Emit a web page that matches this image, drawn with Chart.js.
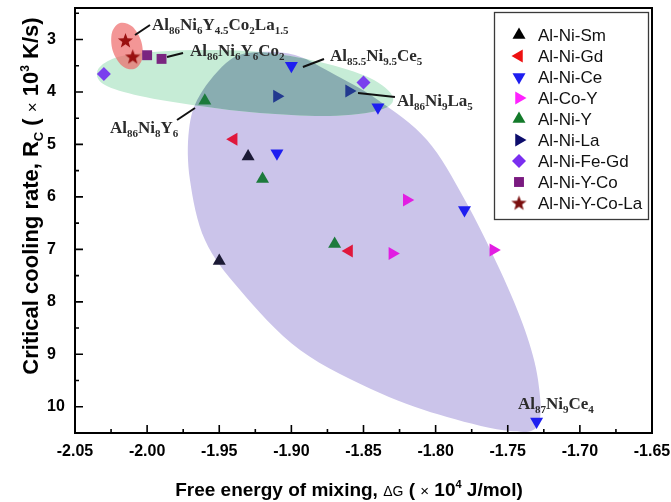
<!DOCTYPE html>
<html>
<head>
<meta charset="utf-8">
<script src="https://cdn.jsdelivr.net/npm/chart.js@4.4.1/dist/chart.umd.min.js"></script>
<style>
  html, body { margin: 0; padding: 0; background: #ffffff; }
  #myChartRc { display: block; }
</style>
</head>
<body>
<canvas id="myChartRc" width="671" height="502"></canvas>
<script>
//? Données : x = ΔG (x 10^4 J/mol), y = Rc (x 10^3 K/s).

const nomsSeries = [
  "Al-Ni-Sm",
  "Al-Ni-Gd",
  "Al-Ni-Ce",
  "Al-Co-Y",
  "Al-Ni-Y",
  "Al-Ni-La",
  "Al-Ni-Fe-Gd",
  "Al-Ni-Y-Co",
  "Al-Ni-Y-Co-La",
];

const valeursAlNiSm = [[-1.93, 5.23], [-1.95, 7.22]];
const valeursAlNiGd = [[-1.94, 4.9], [-1.86, 7.03]];
const valeursAlNiCe = [[-1.9, 3.5], [-1.84, 4.29], [-1.91, 5.17], [-1.78, 6.25], [-1.73, 10.28]];
const valeursAlCoY = [[-1.82, 6.06], [-1.83, 7.08], [-1.76, 7.01]];
const valeursAlNiY = [[-1.96, 4.17], [-1.92, 5.66], [-1.87, 6.9]];
const valeursAlNiLa = [[-1.91, 4.08], [-1.86, 3.98]];
const valeursAlNiFeGd = [[-2.03, 3.66], [-1.85, 3.82]];
const valeursAlNiYCo = [[-2.0, 3.3], [-1.99, 3.37]];
const valeursAlNiYCoLa = [[-2.015, 3.02], [-2.01, 3.33]];

const ticksX = [-2.05, -2.0, -1.95, -1.9, -1.85, -1.8, -1.75, -1.7, -1.65];
const ticksY = [3, 4, 5, 6, 7, 8, 9, 10];

//? Contours des zones colorées (mêmes unités que les axes).

const zoneRouge = [
  [-2.0091, 3.563], [-2.0035, 3.376], [-2.004, 3.042], [-2.0103, 2.754],
  [-2.0188, 2.686], [-2.0244, 2.873], [-2.0239, 3.208], [-2.0176, 3.494],
];

const zoneVerte = [
  [-2.0347, 3.62], [-2.0257, 3.391], [-2.0049, 3.258], [-1.9634, 3.2],
  [-1.9218, 3.239], [-1.8802, 3.429], [-1.8455, 3.734], [-1.8296, 4.096],
  [-1.8386, 4.344], [-1.8732, 4.458], [-1.9218, 4.401], [-1.9634, 4.268],
  [-2.0049, 4.077], [-2.0292, 3.868],
];

const zoneViolette = [
  [-1.9426, 3.391], [-1.9218, 3.239], [-1.8975, 3.296], [-1.8732, 3.62],
  [-1.84, 4.153], [-1.806, 4.916], [-1.7797, 6.059], [-1.7554, 7.393],
  [-1.7381, 8.537], [-1.729, 9.49], [-1.729, 10.347], [-1.7485, 10.462],
  [-1.7921, 10.195], [-1.8386, 9.738], [-1.894, 8.918], [-1.9356, 7.774],
  [-1.9599, 6.822], [-1.9703, 5.678], [-1.971, 4.725], [-1.9634, 4.058],
];

//? -------------------------------------------------

//? Étiquettes des compositions (pair = texte, impair = indice).

const etiquettes = [
  { morceaux: ["Al", "86", "Ni", "6", "Y", "4.5", "Co", "2", "La", "1.5"], x: -1.9966, y: 2.705, trait: [[-2.0084, 2.915], [-1.998, 2.724]] },
  { morceaux: ["Al", "86", "Ni", "6", "Y", "6", "Co", "2"], x: -1.9703, y: 3.2, trait: [[-1.9862, 3.334], [-1.9751, 3.258]] },
  { morceaux: ["Al", "85.5", "Ni", "9.5", "Ce", "5"], x: -1.8732, y: 3.296, trait: [[-1.892, 3.524], [-1.8774, 3.372]] },
  { morceaux: ["Al", "86", "Ni", "9", "La", "5"], x: -1.8268, y: 4.153, trait: [[-1.8538, 4.02], [-1.8282, 4.096]] },
  { morceaux: ["Al", "86", "Ni", "8", "Y", "6"], x: -2.0257, y: 4.668, trait: [[-1.9793, 4.535], [-1.9668, 4.306]] },
  { morceaux: ["Al", "87", "Ni", "9", "Ce", "4"], x: -1.7429, y: 9.928, trait: null },
];

//? -------------------------------------------------

//? Marqueur étoile (Chart.js n'a pas d'étoile pleine).

const creerEtoile = (couleur) => {
  const c = document.createElement("canvas");
  c.width = 17;
  c.height = 17;
  const g = c.getContext("2d");
  g.beginPath();
  for (let i = 0; i < 10; i++) {
    const r = i % 2 === 0 ? 8 : 3.3;
    const a = -Math.PI / 2 + (i * Math.PI) / 5;
    const px = 8.5 + r * Math.cos(a);
    const py = 9 + r * Math.sin(a);
    if (i === 0) g.moveTo(px, py);
    else g.lineTo(px, py);
  }
  g.closePath();
  g.fillStyle = couleur;
  g.fill();
  return c;
};

const styles = [
  { couleur: "#1b1a35", legende: "#000000", forme: "triangle", rotation: 0, rayon: 7.5 },
  { couleur: "#e0173c", legende: "#ee1111", forme: "triangle", rotation: -90, rayon: 7.5 },
  { couleur: "#1e1ef0", legende: "#1e1ef0", forme: "triangle", rotation: 180, rayon: 7.5 },
  { couleur: "#e21de2", legende: "#ff22ff", forme: "triangle", rotation: 90, rayon: 7.5 },
  { couleur: "#1c7a3c", legende: "#137a2a", forme: "triangle", rotation: 0, rayon: 7.5 },
  { couleur: "#22398f", legende: "#0c0c6c", forme: "triangle", rotation: 90, rayon: 7.5 },
  { couleur: "#7a3fee", legende: "#7a2ef0", forme: "rectRot", rotation: 0, rayon: 7 },
  { couleur: "#7a2580", legende: "#7a1a80", forme: "rect", rotation: 0, rayon: 7 },
  { couleur: "#9a1010", legende: "#7a0e0e", forme: "etoile", rotation: 0, rayon: 8 },
];

const toPoints = (tab) => tab.map(([x, y]) => ({ x, y }));

//? -------------------------------------------------

//? Outils de dessin.

const tracerCourbeFermee = (ctx, pts) => {
  const n = pts.length;
  ctx.beginPath();
  ctx.moveTo(pts[0][0], pts[0][1]);
  for (let i = 0; i < n; i++) {
    const p0 = pts[(i - 1 + n) % n];
    const p1 = pts[i];
    const p2 = pts[(i + 1) % n];
    const p3 = pts[(i + 2) % n];
    ctx.bezierCurveTo(
      p1[0] + (p2[0] - p0[0]) / 6,
      p1[1] + (p2[1] - p0[1]) / 6,
      p2[0] - (p3[0] - p1[0]) / 6,
      p2[1] - (p3[1] - p1[1]) / 6,
      p2[0],
      p2[1]
    );
  }
  ctx.closePath();
};

const versPixels = (chart, tab) =>
  tab.map(([x, y]) => [
    chart.scales.x.getPixelForValue(x),
    chart.scales.y.getPixelForValue(y),
  ]);

// morceaux : { t, f, dy }
const largeurRiche = (ctx, morceaux) =>
  morceaux.reduce((s, m) => {
    ctx.font = m.f;
    return s + ctx.measureText(m.t).width;
  }, 0);

const dessinerRiche = (ctx, morceaux, x, y) => {
  let cx = x;
  ctx.textAlign = "left";
  ctx.textBaseline = "alphabetic";
  morceaux.forEach((m) => {
    ctx.font = m.f;
    ctx.fillText(m.t, cx, y + (m.dy || 0));
    cx += ctx.measureText(m.t).width;
  });
};

//? -------------------------------------------------

//? Plugin zones (sous les points).

const pluginZones = {
  id: "zones",
  beforeDatasetsDraw(chart) {
    const ctx = chart.ctx;
    const violet = versPixels(chart, zoneViolette);
    const vert = versPixels(chart, zoneVerte);
    const rouge = versPixels(chart, zoneRouge);

    ctx.save();
    tracerCourbeFermee(ctx, violet);
    ctx.fillStyle = "#cbc4ea";
    ctx.fill();

    tracerCourbeFermee(ctx, vert);
    ctx.fillStyle = "#c6ecd6";
    ctx.fill();

    // recouvrement vert / violet
    ctx.save();
    tracerCourbeFermee(ctx, vert);
    ctx.clip();
    tracerCourbeFermee(ctx, violet);
    ctx.fillStyle = "#89adb1";
    ctx.fill();
    ctx.restore();

    tracerCourbeFermee(ctx, rouge);
    ctx.fillStyle = "rgba(238, 100, 100, 0.68)";
    ctx.fill();
    ctx.restore();
  },
};

//? Plugin habillage : cadre, graduations, titres, étiquettes, légende.

const pluginHabillage = {
  id: "habillage",
  afterDatasetsDraw(chart) {
    const ctx = chart.ctx;
    const sx = chart.scales.x;
    const sy = chart.scales.y;
    const { left, right, top, bottom } = chart.chartArea;

    ctx.save();

    //? Étiquettes des compositions
    etiquettes.forEach((e) => {
      if (e.trait) {
        ctx.beginPath();
        ctx.moveTo(sx.getPixelForValue(e.trait[0][0]), sy.getPixelForValue(e.trait[0][1]));
        ctx.lineTo(sx.getPixelForValue(e.trait[1][0]), sy.getPixelForValue(e.trait[1][1]));
        ctx.strokeStyle = "#111111";
        ctx.lineWidth = 2;
        ctx.stroke();
      }
      const morceaux = e.morceaux.map((t, i) =>
        i % 2 === 0
          ? { t, f: 'bold 17px "Liberation Serif"' }
          : { t, f: 'bold 11px "Liberation Serif"', dy: 4 }
      );
      ctx.fillStyle = "#2b2b2b";
      dessinerRiche(ctx, morceaux, sx.getPixelForValue(e.x), sy.getPixelForValue(e.y) + 6);
    });

    //? Cadre
    ctx.strokeStyle = "#000000";
    ctx.lineWidth = 2;
    ctx.strokeRect(left, top, right - left, bottom - top);

    //? Graduations vers l'intérieur
    ctx.lineWidth = 1.6;
    ctx.beginPath();
    ticksX.forEach((v, i) => {
      const px = sx.getPixelForValue(v);
      ctx.moveTo(px, bottom);
      ctx.lineTo(px, bottom - 8);
      if (i < ticksX.length - 1) {
        const pm = sx.getPixelForValue(v + 0.025);
        ctx.moveTo(pm, bottom);
        ctx.lineTo(pm, bottom - 4);
      }
    });
    ticksY.forEach((v) => {
      const py = sy.getPixelForValue(v);
      ctx.moveTo(left, py);
      ctx.lineTo(left + 8, py);
      [v - 0.5, v + 0.5].forEach((m) => {
        if (m >= sy.min && m <= sy.max) {
          const pm = sy.getPixelForValue(m);
          ctx.moveTo(left, pm);
          ctx.lineTo(left + 4, pm);
        }
      });
    });
    ctx.stroke();

    //? Libellés des graduations
    ctx.fillStyle = "#000000";
    ctx.font = 'bold 16px "Liberation Sans"';
    ctx.textAlign = "center";
    ctx.textBaseline = "middle";
    ticksX.forEach((v) => {
      ctx.fillText(v.toFixed(2), sx.getPixelForValue(v), bottom + 19);
    });
    ctx.textAlign = "left";
    ticksY.forEach((v) => {
      ctx.fillText(String(v), 47, sy.getPixelForValue(v));
    });

    //? Titre axe X
    const titreX = [
      { t: "Free energy of mixing, ", f: 'bold 19px "Liberation Sans"' },
      { t: "ΔG", f: '14px "Liberation Sans"' },
      { t: " ( ", f: 'bold 19px "Liberation Sans"' },
      { t: "×", f: '15px "Liberation Sans"' },
      { t: " 10", f: 'bold 19px "Liberation Sans"' },
      { t: "4", f: 'bold 11px "Liberation Sans"', dy: -8 },
      { t: " J/mol)", f: 'bold 19px "Liberation Sans"' },
    ];
    const lx = largeurRiche(ctx, titreX);
    dessinerRiche(ctx, titreX, 349 - lx / 2, 496);

    //? Titre axe Y
    const titreY = [
      { t: "Critical cooling rate, R", f: 'bold 22px "Liberation Sans"' },
      { t: "C", f: 'bold 13px "Liberation Sans"', dy: 5 },
      { t: " ( ", f: 'bold 22px "Liberation Sans"' },
      { t: "×", f: '17px "Liberation Sans"' },
      { t: " 10", f: 'bold 22px "Liberation Sans"' },
      { t: "3", f: 'bold 12px "Liberation Sans"', dy: -9 },
      { t: " K/s)", f: 'bold 22px "Liberation Sans"' },
    ];
    const ly = largeurRiche(ctx, titreY);
    ctx.save();
    ctx.translate(38, 196);
    ctx.rotate(-Math.PI / 2);
    dessinerRiche(ctx, titreY, -ly / 2, 0);
    ctx.restore();

    //? Légende
    ctx.fillStyle = "#ffffff";
    ctx.fillRect(494, 12, 154, 207);
    ctx.strokeStyle = "#3a3a3a";
    ctx.lineWidth = 1.3;
    ctx.strokeRect(494.5, 12.5, 154, 207);
    nomsSeries.forEach((nom, i) => {
      const yy = 35 + i * 21;
      const st = styles[i];
      ctx.fillStyle = st.legende;
      ctx.strokeStyle = st.legende;
      const forme = st.forme === "etoile" ? creerEtoile(st.legende) : st.forme;
      Chart.helpers.drawPoint(
        ctx,
        { pointStyle: forme, rotation: st.rotation, radius: st.rayon, borderWidth: 0 },
        519,
        yy
      );
      ctx.fillStyle = "#111111";
      ctx.font = '17px "Liberation Sans"';
      ctx.textAlign = "left";
      ctx.textBaseline = "middle";
      ctx.fillText(nom, 538, yy + 1);
    });

    ctx.restore();
  },
};

//? -------------------------------------------------

//? Construction du graphique.

const constructionDuGraphiqueRc = () => {
  try {
    const ctxRc = document.getElementById("myChartRc").getContext("2d");

    const toutesValeurs = [
      valeursAlNiSm,
      valeursAlNiGd,
      valeursAlNiCe,
      valeursAlCoY,
      valeursAlNiY,
      valeursAlNiLa,
      valeursAlNiFeGd,
      valeursAlNiYCo,
      valeursAlNiYCoLa,
    ];

    const datasets = nomsSeries.map((nom, i) => {
      const st = styles[i];
      return {
        label: nom,
        data: toPoints(toutesValeurs[i]),
        backgroundColor: st.couleur,
        borderColor: st.couleur,
        borderWidth: 0,
        pointStyle: st.forme === "etoile" ? creerEtoile(st.couleur) : st.forme,
        rotation: st.rotation,
        pointRadius: st.rayon,
        pointHoverRadius: st.rayon,
      };
    });

    const config = {
      type: "scatter",
      data: { datasets },
      options: {
        responsive: false,
        animation: false,
        events: [],
        layout: { padding: { left: 75, right: 19, top: 8, bottom: 69 } },
        plugins: {
          legend: { display: false },
          tooltip: { enabled: false },
        },
        scales: {
          x: { type: "linear", min: -2.05, max: -1.65, display: false },
          y: { type: "linear", min: 2.4, max: 10.5, reverse: true, display: false },
        },
      },
      plugins: [pluginZones, pluginHabillage],
    };

    new Chart(ctxRc, config);
  } catch (error) {
    console.error("🔴 ERREUR | Construction graphique :", error);
  }
};

constructionDuGraphiqueRc();
</script>
</body>
</html>
